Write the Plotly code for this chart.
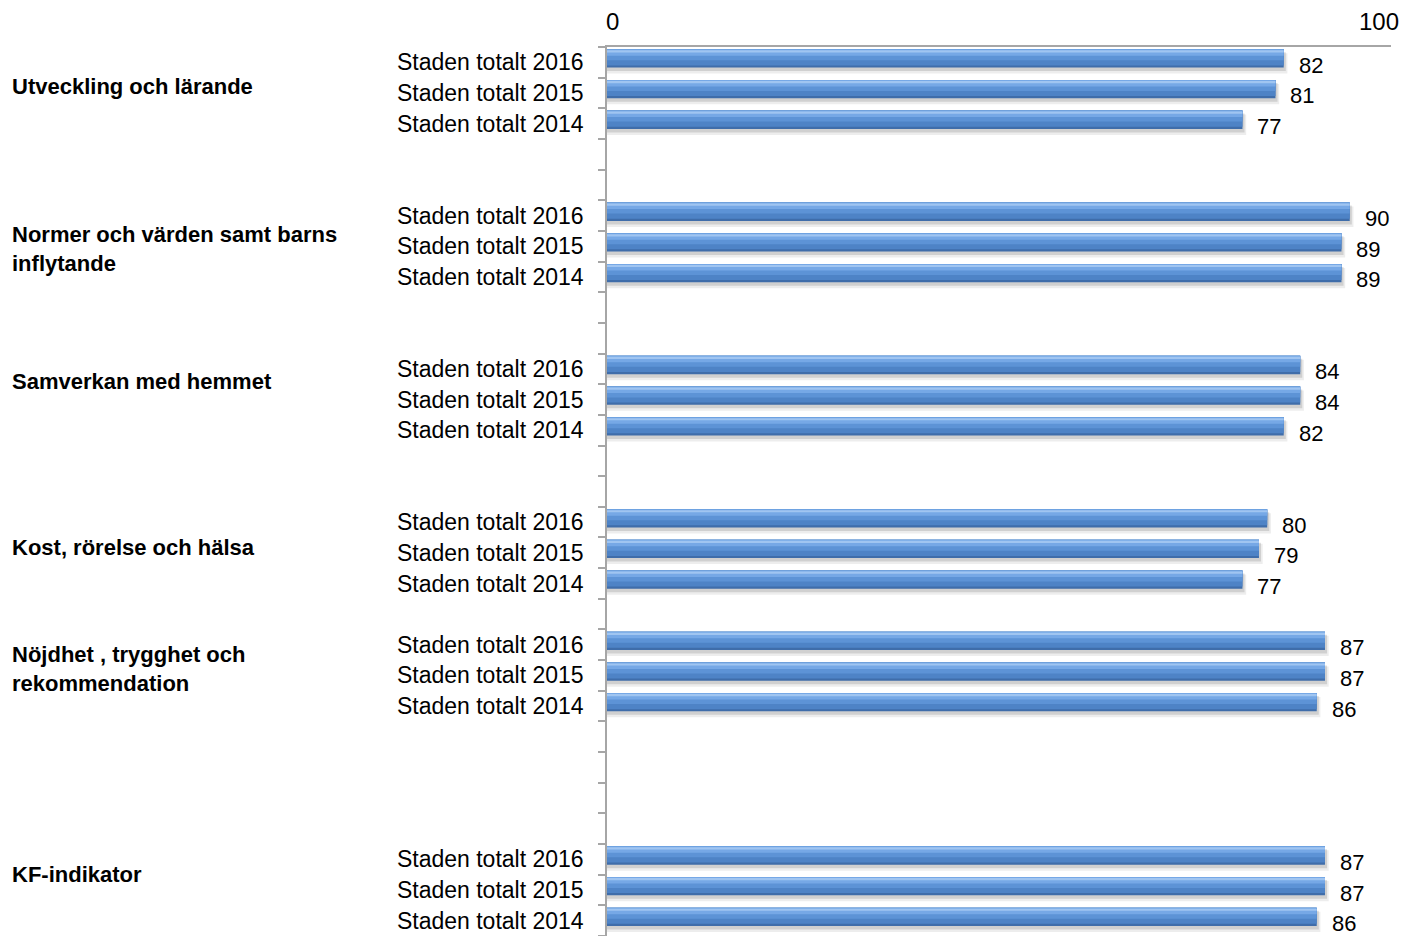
import plotly.graph_objects as go

# ---- data ----
groups = ["Utveckling och lärande",
          "Normer och värden samt barns<br>inflytande",
          "Samverkan med hemmet",
          "Kost, rörelse och hälsa",
          "Nöjdhet , trygghet och<br>rekommendation",
          "KF-indikator"]
years = ["Staden totalt 2016", "Staden totalt 2015", "Staden totalt 2014"]
values = [[82, 81, 77],
          [90, 89, 89],
          [84, 84, 82],
          [80, 79, 77],
          [87, 87, 86],
          [87, 87, 86]]
gaps_after = [2, 2, 2, 1, 4]   # empty category slots between groups
axis_labels = ["0", "100"]

# ---- layout positions (page body adds an 8px margin) ----
W, H = 1400, 928
L, R, T, B = 599, 17, 39, 0
label_dy = [-0.22, 0.10, -0.60, -0.18, -0.20, -0.52]

ys, xs, labels = [], [], []
group_mid = []
slot = 0
for gi, (g, vals) in enumerate(zip(groups, values)):
    group_mid.append(slot + 1)
    for yr, v in zip(years, vals):
        ys.append(slot)
        xs.append(v)
        labels.append(yr)
        slot += 1
    if gi < len(gaps_after):
        slot += gaps_after[gi]
nslots = slot
xmax = 95.0

plot_h = H - T - B
px = plot_h / nslots  # pixels per slot


def band(top_px, bot_px, color, xvals, name):
    off = (top_px - px / 2) / px
    wid = (bot_px - top_px) / px
    return go.Bar(x=xvals, y=ys, orientation="h", offset=off, width=wid,
                  marker=dict(color=color, line=dict(width=0)),
                  hoverinfo="skip", name=name, showlegend=False)


fig = go.Figure()
bt = 2.3
bh = 18.3
fig.add_trace(band(bt + 4, bt + bh + 6, "rgba(0,0,0,0.07)", [v + 0.45 for v in xs], "sh1"))
fig.add_trace(band(bt + 3, bt + bh + 3.5, "rgba(0,0,0,0.12)", [v + 0.25 for v in xs], "sh2"))
fig.add_trace(band(bt, bt + bh, "#3F6DAA", xs, "b0"))
fig.add_trace(band(bt, bt + bh - 2.2, "#4E83C6", xs, "b1"))
fig.add_trace(band(bt, bt + 11, "#5D93D6", xs, "b2"))
fig.add_trace(band(bt, bt + 6.5, "#76A8E6", xs, "b3"))
fig.add_trace(band(bt + 1, bt + 3.2, "#A0C5F1", xs, "b4"))

FONT = "Liberation Sans, Arial"
annotations = []
for y, v in zip(ys, xs):
    annotations.append(dict(x=v, y=y, xref="x", yref="y", text=str(v),
                            showarrow=False, xanchor="left", yanchor="middle",
                            xshift=13, yshift=-3,
                            font=dict(family=FONT, size=22, color="#000")))
for g, m, dy in zip(groups, group_mid, label_dy):
    annotations.append(dict(x=(2 - L) / (W - L - R), y=m + dy, xref="paper", yref="y",
                            text="<b>" + g + "</b>", showarrow=False,
                            xanchor="left", yanchor="middle", align="left",
                            font=dict(family=FONT, size=22, color="#000")))
annotations.append(dict(x=0, y=1, xref="x", yref="paper", text=axis_labels[0],
                        showarrow=False, xanchor="center", yanchor="bottom", yshift=10, xshift=5,
                        font=dict(family=FONT, size=24, color="#000")))
annotations.append(dict(x=1, y=1, xref="paper", yref="paper", text=axis_labels[1],
                        showarrow=False, xanchor="right", yanchor="bottom", yshift=10, xshift=10,
                        font=dict(family=FONT, size=24, color="#000")))

fig.update_layout(
    width=W, height=H,
    margin=dict(l=L, r=R, t=T, b=B, pad=0),
    plot_bgcolor="white", paper_bgcolor="white",
    barmode="overlay",
    annotations=annotations,
    xaxis=dict(range=[0, xmax], side="top", showgrid=False, zeroline=False,
               showline=True, linecolor="#A6A6A6", linewidth=1.5,
               showticklabels=False, ticks=""),
    yaxis=dict(range=[nslots - 0.5, -0.5], showgrid=False, zeroline=False,
               showline=True, linecolor="#A6A6A6", linewidth=1.5,
               tickmode="array", tickvals=ys, ticktext=labels, ticks="",
               ticklabelstandoff=17,
               tickfont=dict(family=FONT, size=23, color="#000"),
               minor=dict(tickmode="array",
                          tickvals=[i - 0.5 for i in range(nslots + 1)],
                          ticks="outside", ticklen=7, tickcolor="#A6A6A6", tickwidth=1.5)),
    font=dict(family=FONT),
)

fig.write_html("out.html")
